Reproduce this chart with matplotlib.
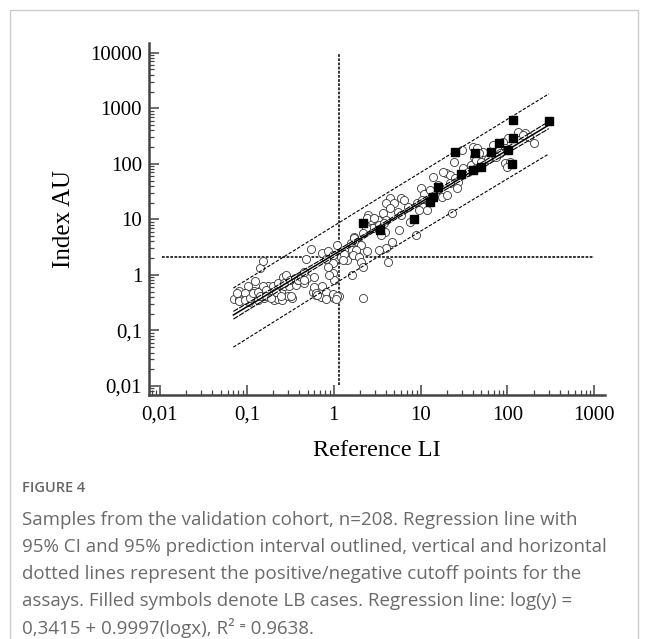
import matplotlib
matplotlib.use('Agg')
import matplotlib.pyplot as plt
from matplotlib.lines import Line2D

# open circles (Reference LI, Index AU)
circle_x = [0.0715, 0.082, 0.082, 0.102, 0.106, 0.121, 0.123, 0.142, 0.155, 0.133, 0.145, 0.158,
            0.173, 0.189, 0.197, 0.206, 0.226, 0.246, 0.257, 0.268, 0.294, 0.306, 0.335, 0.366,
            0.383, 0.418, 0.456, 0.49, 0.544, 0.57, 0.62, 0.71, 0.74, 0.74, 0.85, 0.85, 0.92,
            0.97, 0.97, 1.0, 1.0, 1.1, 1.15, 1.2, 1.44, 1.57, 1.64, 1.71, 1.87, 1.64,
            0.103, 0.077, 0.081, 0.094, 0.094, 0.108, 0.117, 0.134, 0.14, 0.153, 0.167, 0.167,
            0.19, 0.20, 0.217, 0.227, 0.248, 0.26, 0.28, 0.27, 0.31, 0.32, 0.354, 0.386, 0.42,
            0.46, 0.48,
            2.5, 2.66, 2.8, 2.33, 2.15, 1.7, 1.9, 2.04, 1.8, 2.4, 0.97, 0.81, 1.3, 1.27, 1.65,
            1.95, 2.04, 2.15, 0.85, 0.88, 0.59, 0.45, 0.59, 0.62, 0.81, 0.97, 1.1, 1.05, 0.81,
            0.65, 2.2,
            10, 11, 4.5, 5.9, 4.9, 4.0, 7.1, 9.2, 4.5, 5.5, 3.7, 2.4, 3.2, 4.0, 3.3, 3.9, 3.5,
            5.6, 8.8, 4.7, 4.0, 3.3, 4.2,
            30, 40, 41, 46, 52, 24, 19.4, 22, 25, 27, 31, 37.6, 43, 46, 14, 10.5, 17.5, 22, 26,
            23, 10.8,
            133, 161, 175, 102, 88, 76, 95, 83, 69, 45, 47, 95, 108, 100, 73, 43, 50,
            200, 150, 6.4, 9.5, 2.9, 3.8, 18, 6.0, 7.5, 12, 13, 16, 20, 60, 35]
circle_y = [0.365, 0.365, 0.52, 0.52, 0.33, 0.51, 0.79, 1.35, 1.81, 0.355, 0.54, 0.38,
            0.62, 0.44, 0.50, 0.355, 0.37, 0.50, 0.355, 0.62, 0.41, 0.62, 0.38, 0.66,
            0.81, 0.87, 0.71, 0.87, 2.9, 0.50, 0.44, 0.40, 2.46, 0.62, 2.74, 0.44, 0.41,
            1.07, 1.62, 0.81, 0.38, 3.47, 0.41, 2.14, 1.86, 3.72, 2.82, 4.9, 2.29, 1.0,
            0.62, 0.47, 0.34, 0.47, 0.355, 0.38, 0.47, 0.50, 0.41, 0.62, 0.54, 0.41,
            0.38, 0.62, 0.50, 0.71, 0.41, 0.93, 1.0, 0.71, 0.81, 0.41, 0.87, 0.81, 0.93,
            1.15, 1.92,
            12, 9.8, 7.0, 7.0, 5.7, 4.6, 3.9, 3.47, 2.8, 2.7, 2.29, 1.94, 2.4, 1.86, 2.29,
            2.1, 1.7, 1.39, 1.39, 1.0, 0.92, 0.81, 0.61, 0.47, 0.49, 0.45, 0.42, 0.37, 0.37,
            0.44, 0.385,
            37, 29, 24, 24, 20, 20, 17, 20, 16, 13.6, 13, 10.6, 9.8, 9.8, 8.0, 6.0, 5.3,
            6.5, 5.3, 3.9, 3.1, 2.8, 1.7,
            178, 203, 134, 134, 165, 109, 69, 63, 56, 47, 85, 96, 85, 104, 58, 22, 25, 45, 37,
            13, 17,
            380, 360, 310, 295, 250, 195, 195, 158, 220, 195, 158, 104, 109, 88, 134, 118, 110,
            240, 330, 22.4, 14.8, 10.6, 8.6, 72, 12, 9, 15, 34, 42, 28, 120, 70]

# filled squares: LB cases
lb_x = [2.2, 3.45, 8.3, 13, 14, 15.7, 25, 29, 40, 42, 49, 64, 79, 102, 113, 117, 117, 300]
lb_y = [8.6, 6.5, 10.3, 20.5, 25, 38, 165, 65, 78, 155, 86, 165, 240, 178, 100, 295, 610, 600]

# regression line, 95% CI and 95% prediction interval
fit_x = [0.07, 3, 300]
fit_y = [0.19, 6.5, 500]
ci_hi = [0.22, 7.0, 580]
ci_lo = [0.16, 6.1, 430]
pi_hi = [0.58, 22, 1820]
pi_lo = [0.05, 1.97, 151]

# cutoffs
cut_x = 1.14
cut_y = 2.1

x_ticks = [0.01, 0.1, 1, 10, 100, 1000]
x_labels = ['0,01', '0,1', '1', '10', '100', '1000']
y_ticks = [0.01, 0.1, 1, 10, 100, 1000, 10000]
y_labels = ['0,01', '0,1', '1', '10', '100', '1000', '10000']

caption = ['Samples from the validation cohort, n=208. Regression line with',
           '95% CI and 95% prediction interval outlined, vertical and horizontal',
           'dotted lines represent the positive/negative cutoff points for the',
           'assays. Filled symbols denote LB cases. Regression line: log(y) =',
           '0,3415 + 0.9997(logx), R\u00b2 \u207c 0.9638.']

fig = plt.figure(figsize=(6.48, 6.39), dpi=100)
ax = fig.add_axes([0.23, 0.382, 0.704, 0.551])
ax.set_xscale('log')
ax.set_yscale('log')
ax.set_xlim(0.00748, 1337)
ax.set_ylim(0.0069, 15100)

ax.plot(circle_x, circle_y, 'o', ms=5.8, mfc='white', mec='#333333', mew=0.6, zorder=3)

ax.plot(fit_x, fit_y, '-', c='black', lw=1.1, zorder=4)
ax.plot(fit_x, ci_hi, c='black', lw=0.8, ls=(0, (5, 1)), zorder=4)
ax.plot(fit_x, ci_lo, c='black', lw=0.8, ls=(0, (5, 1)), zorder=4)
ax.plot(fit_x, pi_hi, c='black', lw=0.8, ls=(0, (3, 1.5)), zorder=4)
ax.plot(fit_x, pi_lo, c='black', lw=0.8, ls=(0, (3, 1.5)), zorder=4)

ax.plot(lb_x, lb_y, 's', ms=6.2, c='black', zorder=5)

ax.plot([cut_x, cut_x], [0.0105, 9600], c='#222222', lw=1.3, ls=(0, (1.5, 0.8)), zorder=2)
ax.plot([0.0105, 1000], [cut_y, cut_y], c='#222222', lw=1.3, ls=(0, (1.5, 0.8)), zorder=2)

for s in ['top', 'right']:
    ax.spines[s].set_visible(False)
for s in ['left', 'bottom']:
    ax.spines[s].set_linewidth(1.8)
    ax.spines[s].set_color('#444444')

ax.set_xticks(x_ticks)
ax.set_xticklabels(x_labels)
ax.set_yticks(y_ticks)
ax.set_yticklabels(y_labels)
ax.tick_params(which='major', direction='in', length=7, width=1.1, color='#444444', pad=5,
               labelsize=15)
ax.tick_params(axis='x', which='major', pad=8)
ax.tick_params(which='minor', direction='in', length=3.5, width=0.9, color='#444444')
for lab in ax.get_xticklabels() + ax.get_yticklabels():
    lab.set_fontfamily('Liberation Serif')

ax.set_xlabel('Reference LI', fontsize=17.5, family='Liberation Serif', labelpad=11)
ax.set_ylabel('Index AU', fontsize=18, family='Liberation Serif', labelpad=11)

# figure frame
fig.add_artist(Line2D([10 / 648, 10 / 648, 638 / 648, 638 / 648], [0, 629 / 639, 629 / 639, 0],
                      color='#cccccc', lw=1.0))

fig.text(22 / 648, 1 - 488 / 639, 'FIGURE 4', fontsize=10.5, color='#666666', weight='semibold',
         family='Open Sans', va='center')
for i, line in enumerate(caption):
    fig.text(22 / 648, 1 - (520 + 27 * i) / 639, line, fontsize=13.5, color='#6a6a6a',
             family=['Open Sans', 'DejaVu Sans'], va='center')

fig.savefig('out.png', dpi=100)
